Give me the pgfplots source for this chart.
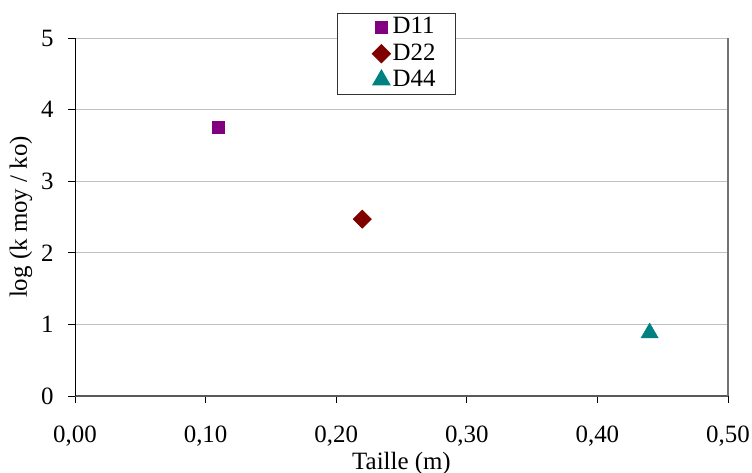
\documentclass[border=0pt]{standalone}
\usepackage{fontspec}
\setmainfont{Liberation Serif}
\usepackage{pgfplots}
\pgfplotsset{compat=1.18}
\definecolor{cD11}{HTML}{800080}
\definecolor{cD22}{HTML}{800000}
\definecolor{cD44}{HTML}{008080}
\definecolor{gridc}{HTML}{C0C0C0}
\begin{document}
\fontsize{25}{29}\selectfont
\begin{tikzpicture}
\begin{axis}[
  at={(0,0)}, anchor=south west,
  scale only axis,
  width=653bp, height=358bp,
  xmin=0, xmax=0.5, ymin=0, ymax=5,
  xtick={0,0.1,0.2,0.3,0.4,0.5},
  xticklabels={{0,00},{0,10},{0,20},{0,30},{0,40},{0,50}},
  ytick={0,1,2,3,4,5},
  yticklabels={0,1,2,3,4,5},
  axis lines=left,
  axis line style={-},
  x axis line style={draw=black!65, line width=1.2pt},
  y axis line style={draw=black, line width=0.8pt},
  tick align=outside,
  major tick length=7bp,
  tick style={black, line width=0.8pt},
  ymajorgrids,
  grid style={gridc, line width=0.8pt},
  ticklabel style={font=\fontsize{25}{29}\selectfont},
  xticklabel style={anchor=base, yshift=-39bp},
  yticklabel style={anchor=east, xshift=-6bp},
  xlabel={Taille (m)},
  ylabel={log (k moy / ko)},
  label style={font=\fontsize{25}{29}\selectfont},
  xlabel style={at={(axis description cs:0.5,-0.204)}, anchor=base},
  ylabel style={at={(axis description cs:-0.083,0.5)}, anchor=center},
  /pgf/number format/assume math mode=true,
  clip=false,
  legend style={at={(rel axis cs:0.492,1.0698)}, anchor=north, draw=black!80, line width=0.8pt, fill=white,
    font=\fontsize{25}{29}\selectfont, inner xsep=18bp, inner ysep=1bp,
    nodes={inner xsep=2bp, inner ysep=3bp}, row sep=0bp},
  legend cell align=left,
  legend image code/.code={\path (0bp,0bp); \draw[#1] plot coordinates {(26bp,0bp)};},
  after end axis/.code={\draw[black!55, line width=1.2pt] (rel axis cs:1,0) -- (rel axis cs:1,1);},
]
\addplot[only marks, mark=square*, mark size=6bp, color=cD11] coordinates {(0.11,3.76)};
\addlegendentry{D11}
\addplot[only marks, mark=square*, mark size=6.5bp, mark options={rotate=45}, color=cD22] coordinates {(0.22,2.47)};
\addlegendentry{D22}
\addplot[only marks, mark=triangle*, mark size=10bp, color=cD44] coordinates {(0.44,0.88)};
\addlegendentry{D44}
\end{axis}
\pgfresetboundingbox
\path[use as bounding box] (-75bp,-77bp) rectangle (677bp,396bp);
\end{tikzpicture}
\end{document}
